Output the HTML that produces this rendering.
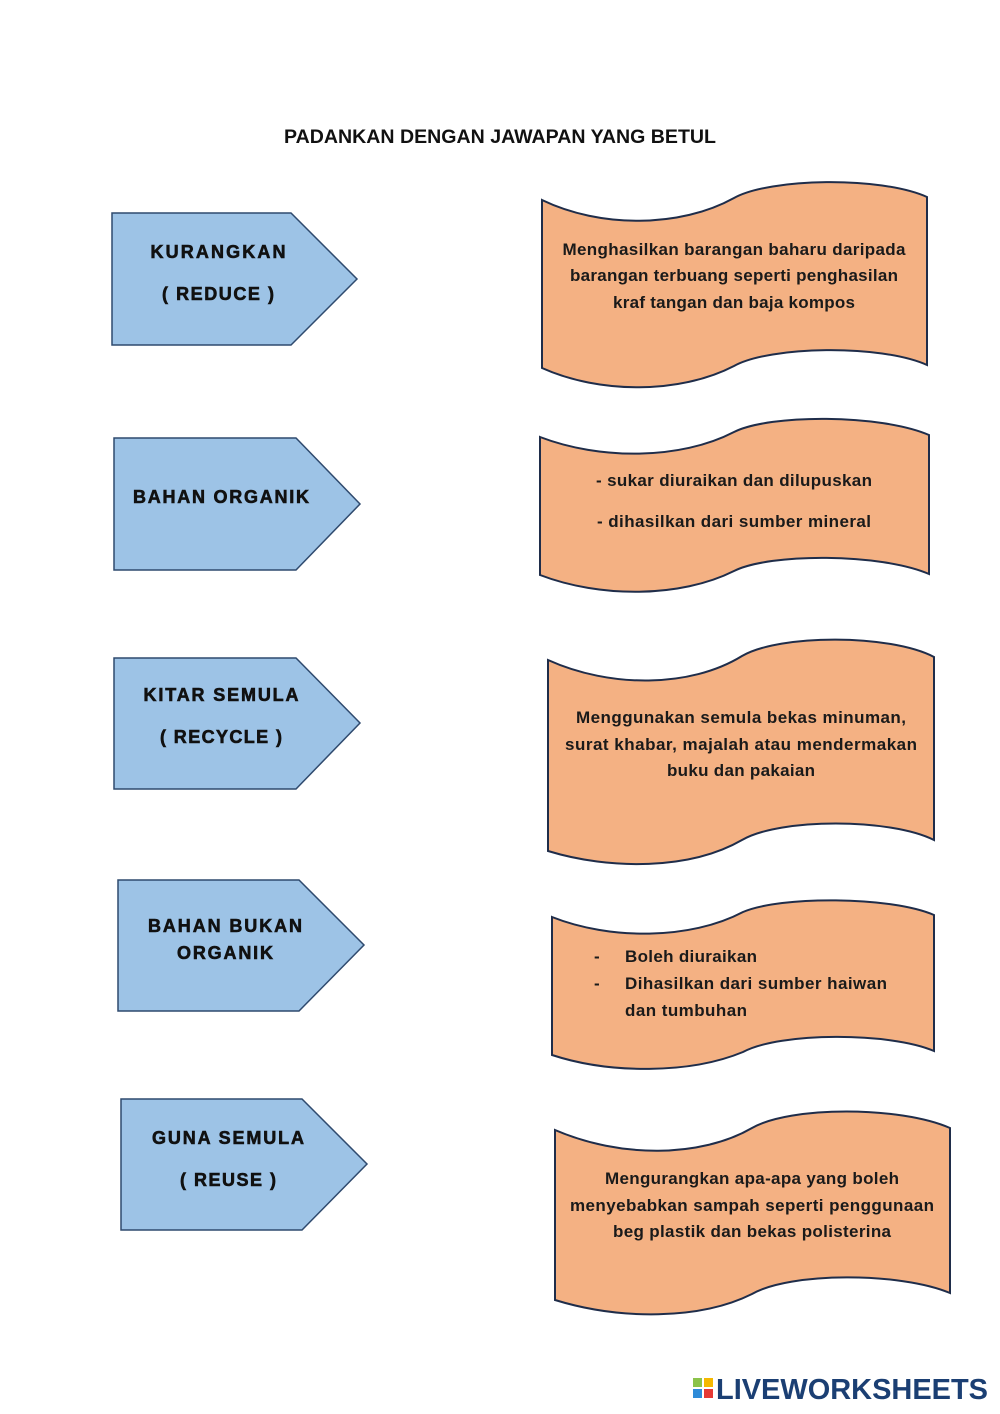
<!DOCTYPE html>
<html><head><meta charset="utf-8"><style>
html,body{margin:0;padding:0;background:#fff;}
svg{display:block;}
text{font-family:"Liberation Sans",sans-serif;font-weight:bold;}
</style></head><body>
<svg width="1000" height="1414" viewBox="0 0 1000 1414">
<text x="500" y="143" font-size="19" text-anchor="middle" fill="#111" textLength="432" lengthAdjust="spacingAndGlyphs">PADANKAN DENGAN JAWAPAN YANG BETUL</text>

<g fill="#9dc3e6" stroke="#2f4a6e" stroke-width="1.5">
<polygon points="112,213 291,213 357,279 291,345 112,345"/>
<polygon points="114,438 296,438 360,504 296,570 114,570"/>
<polygon points="114,658 296,658 360,723 296,789 114,789"/>
<polygon points="118,880 299,880 364,945 299,1011 118,1011"/>
<polygon points="121,1099 302,1099 367,1164 302,1230 121,1230"/>
</g>
<g font-size="18" text-anchor="middle" fill="#111" stroke="#111" stroke-width="0.6" lengthAdjust="spacingAndGlyphs">
<text x="218" y="258" textLength="135">KURANGKAN</text>
<text x="218" y="300" textLength="112">( REDUCE )</text>
<text x="221" y="503" textLength="176">BAHAN ORGANIK</text>
<text x="221" y="701" textLength="155">KITAR SEMULA</text>
<text x="221" y="743" textLength="122">( RECYCLE )</text>
<text x="225" y="932" textLength="154">BAHAN BUKAN</text>
<text x="225" y="959" textLength="96">ORGANIK</text>
<text x="228" y="1144" textLength="152">GUNA SEMULA</text>
<text x="228" y="1186" textLength="96">( REUSE )</text>
</g>

<g fill="#f4b183" stroke="#1f2d4a" stroke-width="2">
<path d="M542,200 C600,228 680,228 734,198 C770,178 880,176 927,197 L927,365 C880,344 770,346 734,366 C680,394 600,394 542,368 Z"/>
<path d="M540,437 C600,460 680,460 734,432 C770,414 880,414 929,435 L929,574 C880,553 770,553 734,571 C680,598 600,598 540,575 Z"/>
<path d="M548,660 C610,688 690,688 742,656 C780,634 890,634 934,657 L934,840 C890,818 780,818 742,840 C690,870 610,870 548,851 Z"/>
<path d="M552,917 C610,940 690,940 743,912 C780,896 890,896 934,915 L934,1051 C890,1032 780,1032 743,1052 C690,1074 610,1074 552,1055 Z"/>
<path d="M555,1130 C620,1158 700,1158 752,1128 C790,1106 900,1106 950,1128 L950,1293 C900,1272 790,1272 752,1294 C700,1320 620,1320 555,1300 Z"/>
</g>
<g font-size="17" text-anchor="middle" fill="#1a1a1a" lengthAdjust="spacingAndGlyphs">
<text x="734" y="255" textLength="343">Menghasilkan barangan baharu daripada</text>
<text x="734" y="281" textLength="328">barangan terbuang seperti penghasilan</text>
<text x="734" y="308" textLength="242">kraf tangan dan baja kompos</text>
<text x="734" y="486" textLength="276">- sukar diuraikan dan dilupuskan</text>
<text x="734" y="527" textLength="274">- dihasilkan dari sumber mineral</text>
<text x="741" y="723" textLength="330">Menggunakan semula bekas minuman,</text>
<text x="741" y="750" textLength="352">surat khabar, majalah atau mendermakan</text>
<text x="741" y="776" textLength="148">buku dan pakaian</text>
<text x="752" y="1184" textLength="294">Mengurangkan apa-apa yang boleh</text>
<text x="752" y="1211" textLength="364">menyebabkan sampah seperti penggunaan</text>
<text x="752" y="1237" textLength="278">beg plastik dan bekas polisterina</text>
</g>
<g font-size="17" fill="#1a1a1a" lengthAdjust="spacingAndGlyphs">
<text x="594" y="962">-</text><text x="625" y="962" textLength="132">Boleh diuraikan</text>
<text x="594" y="989">-</text><text x="625" y="989" textLength="262">Dihasilkan dari sumber haiwan</text>
<text x="625" y="1016" textLength="122">dan tumbuhan</text>
</g>

<g>
<rect x="693" y="1378" width="9" height="9" fill="#8bc34a"/>
<rect x="704" y="1378" width="9" height="9" fill="#f5b800"/>
<rect x="693" y="1389" width="9" height="9" fill="#2e8bd8"/>
<rect x="704" y="1389" width="9" height="9" fill="#e53935"/>
<text x="716" y="1399" font-size="29" fill="#1b3f73" textLength="272" lengthAdjust="spacingAndGlyphs">LIVEWORKSHEETS</text>
</g>
</svg>
</body></html>
